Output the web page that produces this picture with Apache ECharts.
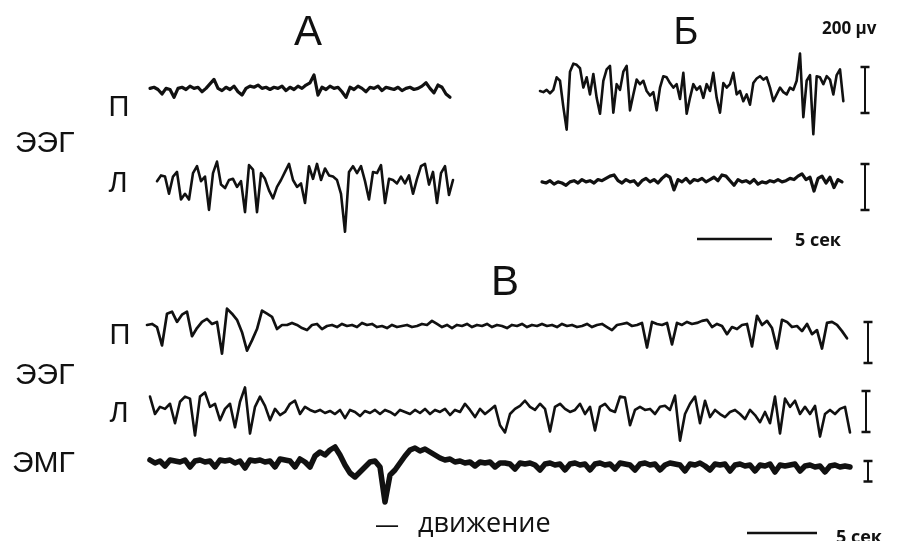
<!DOCTYPE html>
<html>
<head>
<meta charset="utf-8">
<script src="https://cdn.jsdelivr.net/npm/echarts/dist/echarts.min.js"></script>
<style>
  html, body { margin: 0; padding: 0; background: #ffffff; }
  #chart { width: 897px; height: 541px; }
</style>
</head>
<body>
<div id="chart"></div>
<script>
// ---- Recorded traces, amplitude in µV relative to each channel's baseline ----

// Panel А, right hemisphere (П): low-voltage background
const eegA_right = [5,10,0,-20,5,0,-35,5,10,0,15,5,10,-10,5,25,45,5,-5,10,0,15,-10,-25,5,15,10,20,5,10,
  0,10,5,15,-5,10,0,15,5,20,30,65,-25,10,0,15,5,10,-10,-35,10,0,15,5,-10,10,5,15,-5,10,
  5,0,10,-5,5,10,0,5,15,30,5,-15,20,10,-20,-35];

// Panel А, left hemisphere (Л): high-amplitude slow activity
const eegA_left = [-5,20,15,-60,15,35,-85,-60,-85,30,60,-5,15,-130,30,80,-20,-35,0,5,
  -30,-5,-140,65,45,-140,30,5,-45,-80,-30,0,35,70,0,-30,-15,-100,60,5,
  70,0,50,20,15,0,-60,-225,35,60,30,60,-5,-85,35,30,65,-100,5,0,
  -15,15,-15,20,-60,5,60,70,-20,35,-100,30,60,-65,0];

// Panel Б, right hemisphere (П): high-amplitude slow activity
const eegB_right = [0,-5,5,-10,5,60,45,-70,-170,85,120,115,100,15,60,-15,75,-30,-100,45,
  95,110,-95,30,5,85,110,-85,-15,50,30,45,0,-20,-5,-85,15,65,60,35,
  15,30,-35,80,-100,-30,30,5,20,-30,30,0,80,-30,-95,35,15,30,80,-15,
  0,-45,-15,-60,35,55,65,50,60,15,-45,-15,15,-5,-15,15,5,45,165,-115,
  45,70,-190,65,60,30,65,50,-15,70,95,-45];

// Panel Б, left hemisphere (Л): low-voltage background
const eegB_left = [5,0,10,-5,5,0,-10,5,10,0,15,5,10,0,15,10,20,30,35,10,
  0,15,5,10,-10,10,20,5,15,0,20,35,25,-30,15,5,20,0,15,10,
  20,5,15,25,10,35,30,10,-10,15,5,10,0,15,-5,5,0,10,5,15,
  5,10,20,15,30,40,15,25,-35,20,30,0,25,-20,15,5];

// Panel В, right hemisphere (П): slow waves that flatten after movement
const eegC_right = [5,10,-5,-95,60,70,20,55,70,-50,-10,20,35,10,20,-135,85,60,30,-30,
  -120,-70,-15,75,60,45,-15,5,5,15,5,-10,-20,5,10,-15,0,5,-5,10,
  0,5,-5,15,5,10,-5,0,-10,5,-5,0,5,-5,0,10,5,25,10,-5,
  5,-10,5,0,10,-5,5,0,10,-5,5,0,-10,5,0,10,-5,5,0,10,
  0,5,-5,10,0,5,-5,0,10,-5,5,10,-5,-20,5,10,15,0,5,15,
  -105,20,10,5,15,-90,15,5,20,10,15,25,30,-5,10,0,-40,-5,-15,5,
  10,-100,50,5,25,-10,-110,30,20,-5,0,-25,10,-40,-20,-110,15,20,5,-25,-60];

// Panel В, left hemisphere (Л)
const eegC_left = [80,-5,30,20,45,-50,55,80,70,-110,80,100,30,45,-35,20,45,-70,55,125,
  -100,30,80,35,-35,20,-10,5,45,60,-5,30,15,5,15,0,10,-5,15,-25,
  15,5,-15,10,0,15,-5,15,5,-10,15,5,-5,15,0,20,-5,15,5,20,
  -10,15,5,45,15,-20,20,-5,15,35,-60,-95,-5,20,35,60,30,15,45,20,
  -90,30,45,20,5,15,45,-5,30,-85,30,45,15,5,80,75,-60,15,30,15,
  20,-5,30,35,15,85,-135,-5,45,80,-50,60,-20,15,-5,-20,5,15,-5,-30,
  15,-10,-45,5,-50,80,-100,70,30,60,-5,30,-5,35,-115,-5,15,-5,20,30,-95];

// Panel В, electromyogram (ЭМГ): burst and deflection during movement
const emgC = [5,-10,0,-25,5,0,-5,5,-30,0,5,-5,0,-30,5,0,5,-10,0,-35,
  5,0,5,-5,0,-30,10,5,0,-30,10,-5,-30,25,45,30,55,70,30,-20,
  -60,-80,-55,-30,-5,0,-30,-205,-70,-45,-10,25,55,65,50,60,45,30,15,5,
  10,-5,0,-10,-5,-25,-5,-10,-5,-30,-10,-10,-15,-40,-10,-15,-10,-20,-45,-15,
  -10,-20,-15,-45,-15,-10,-20,-15,-45,-15,-10,-20,-15,-40,-10,-15,-20,-45,-15,-10,
  -20,-15,-45,-20,-10,-15,-20,-50,-15,-20,-10,-25,-45,-15,-20,-15,-50,-20,-15,-25,
  -20,-50,-20,-25,-15,-55,-20,-25,-20,-15,-50,-25,-20,-30,-25,-55,-25,-20,-30,-25,-30];

// Calibration marks
const calAmplitudeEEG = 200;   // µV
const calAmplitudeEMG = 100;   // µV
const calDuration = 5;         // seconds

// Text
const panelLabels = ['А', 'Б', 'В'];
const channelLabels = { eeg: 'ЭЭГ', emg: 'ЭМГ', right: 'П', left: 'Л' };
const ampLabel = '200 µv';
const timeLabel = '5 сек';
const eventLabel = 'движение';

// ---- Chart construction ----
const INK = '#111111';
const grids = [], xAxes = [], yAxes = [], series = [];

function addGrid(left, top, width, height, xmin, xmax, ymin, ymax) {
  const i = grids.length;
  grids.push({ left, top, width, height, containLabel: false, show: false });
  xAxes.push({ gridIndex: i, type: 'value', min: xmin, max: xmax, show: false });
  yAxes.push({ gridIndex: i, type: 'value', min: ymin, max: ymax, show: false });
  return i;
}

// One channel: samples on x (index), µV on y; baseline placed at baseY
function addTrace(values, left, stepPx, baseY, pxPerUv, width) {
  const R = 400;
  const g = addGrid(left, baseY - R * pxPerUv, (values.length - 1) * stepPx, 2 * R * pxPerUv,
                    0, values.length - 1, -R, R);
  series.push({
    type: 'line', xAxisIndex: g, yAxisIndex: g,
    data: values.map((v, i) => [i, v]),
    symbol: 'none', clip: false, silent: true,
    lineStyle: { color: INK, width: width, join: 'round', cap: 'round' }
  });
}

// Vertical amplitude calibration bar with caps
function addCalBar(centerX, topY, uv, pxPerUv) {
  const g = addGrid(centerX - 5, topY, 10, uv * pxPerUv, -1, 1, 0, uv);
  series.push({
    type: 'line', xAxisIndex: g, yAxisIndex: g,
    data: [[0, 0], [0, uv]],
    symbol: 'rect', symbolSize: [9, 2.5], showSymbol: true, clip: false, silent: true,
    itemStyle: { color: INK }, lineStyle: { color: INK, width: 2 }
  });
}

// Horizontal time bar
function addTimeBar(left, y, sec, pxPerSec) {
  const g = addGrid(left, y - 5, sec * pxPerSec, 10, 0, sec, -1, 1);
  series.push({
    type: 'line', xAxisIndex: g, yAxisIndex: g,
    data: [[0, 0], [sec, 0]],
    symbol: 'none', clip: false, silent: true,
    lineStyle: { color: INK, width: 2.5 }
  });
}

const TOP_SCALE = 0.23;    // px per µV, panels А and Б
const BOT_SCALE = 0.205;   // px per µV, panel В

addTrace(eegA_right, 150, 4, 87, TOP_SCALE, 3.2);
addTrace(eegA_left, 157, 4, 180, TOP_SCALE, 2.6);
addTrace(eegB_right, 540, 10 / 3, 90, TOP_SCALE, 2.6);
addTrace(eegB_left, 542, 4, 183, TOP_SCALE, 3.2);

addTrace(eegC_right, 147, 5, 326, BOT_SCALE, 2.7);
addTrace(eegC_left, 150, 5, 413, BOT_SCALE, 2.6);
addTrace(emgC, 150, 5, 463, BOT_SCALE, 5.5);

addCalBar(865, 67, calAmplitudeEEG, TOP_SCALE);
addCalBar(865, 164, calAmplitudeEEG, TOP_SCALE);
addCalBar(868, 322, calAmplitudeEEG, BOT_SCALE);
addCalBar(866, 391, calAmplitudeEEG, BOT_SCALE);
addCalBar(868, 461, calAmplitudeEMG, BOT_SCALE);

addTimeBar(697, 239, calDuration, 15);
addTimeBar(747, 533, calDuration, 14);

function label(text, x, y, size, opts) {
  opts = opts || {};
  return {
    type: 'text', x: x, y: y, silent: true,
    style: {
      text: text,
      fill: INK,
      font: (opts.weight || 'normal') + ' ' + size + 'px ' + (opts.family || '"Liberation Sans", Arial, sans-serif'),
      align: opts.align || 'center',
      verticalAlign: opts.valign || 'middle'
    }
  };
}

const CAL_FONT = '"Open Sans", "Noto Sans", sans-serif';

const graphics = [
  label(panelLabels[0], 308, 33, 42),
  label(panelLabels[1], 686, 34, 38),
  label(panelLabels[2], 505, 283, 42),
  label(ampLabel, 822, 29, 17, { align: 'left', weight: 'bold', family: CAL_FONT }),
  label(timeLabel, 795, 241, 18, { align: 'left', weight: 'bold', family: CAL_FONT }),
  label(timeLabel, 836, 529, 18, { align: 'left', valign: 'top', weight: 'bold', family: CAL_FONT }),

  label(channelLabels.eeg, 15, 144, 30, { align: 'left' }),
  label(channelLabels.right, 119, 108, 29),
  label(channelLabels.left, 118, 184, 29),

  label(channelLabels.eeg, 15, 376, 30, { align: 'left' }),
  label(channelLabels.right, 120, 336, 29),
  label(channelLabels.left, 119, 414, 29),
  label(channelLabels.emg, 12, 464, 30, { align: 'left' }),

  label('—', 387, 526, 24, { family: CAL_FONT }),
  label(eventLabel, 418, 524, 27, { align: 'left', family: CAL_FONT })
];

const chart = echarts.init(document.getElementById('chart'), null, { renderer: 'canvas' });
chart.setOption({
  backgroundColor: '#ffffff',
  animation: false,
  grid: grids,
  xAxis: xAxes,
  yAxis: yAxes,
  series: series,
  graphic: graphics
});
</script>
</body>
</html>
